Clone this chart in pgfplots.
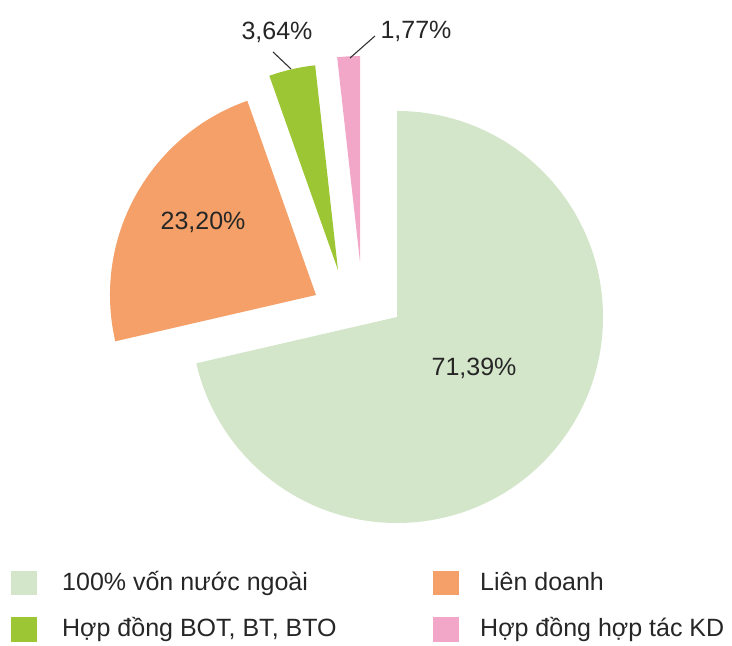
\documentclass[border=0pt]{standalone}
\usepackage{pgfplots}
\pgfplotsset{compat=1.18}
\usepackage{pgfplotstable}
\usepackage{fontspec}
\setmainfont{Liberation Sans}
\definecolor{cA}{HTML}{D3E6CA}
\definecolor{cB}{HTML}{F4A068}
\definecolor{cC}{HTML}{9DC634}
\definecolor{cD}{HTML}{F2A7C9}

% value (%), explode offset dx dy (bp), label position lx ly, colour
\pgfplotstableread{
value dx dy lx ly col
71.39 0 0 474 278 cA
23.20 -81 22 203 424 cB
3.64 -59 47 277 614 cC
1.77 -37 55 416 615 cD
}\piedata

\begin{document}
\begin{tikzpicture}
\begin{axis}[
  scale only axis, width=732bp, height=646bp,
  xmin=0, xmax=732, ymin=0, ymax=646,
  hide axis, clip=false,
]
\def\cum{0}
\pgfplotsforeachungrouped \i in {0,1,2,3}{%
  \pgfplotstablegetelem{\i}{value}\of\piedata \let\v\pgfplotsretval
  \pgfplotstablegetelem{\i}{dx}\of\piedata \let\dx\pgfplotsretval
  \pgfplotstablegetelem{\i}{dy}\of\piedata \let\dy\pgfplotsretval
  \pgfplotstablegetelem{\i}{lx}\of\piedata \let\lx\pgfplotsretval
  \pgfplotstablegetelem{\i}{ly}\of\piedata \let\ly\pgfplotsretval
  \pgfplotstablegetelem{\i}{col}\of\piedata \let\colname\pgfplotsretval
  \pgfmathsetmacro{\sa}{90-3.6*\cum}%
  \pgfmathsetmacro{\cum}{\cum+\v}%
  \pgfmathsetmacro{\ea}{90-3.6*\cum}%
  \pgfmathsetmacro{\px}{397+\dx}%
  \pgfmathsetmacro{\py}{329+\dy}%
  \edef\temp{\noexpand\fill[\colname] (axis cs:\px,\py) -- ++(\sa:206bp)
     arc[start angle=\sa, end angle=\ea, radius=206bp] -- cycle;
     \noexpand\node[inner sep=0pt, text=black!85, font=\noexpand\fontsize{25bp}{30bp}\noexpand\selectfont]
     at (axis cs:\lx,\ly) {\noexpand\pgfmathprintnumber[use comma, fixed, fixed zerofill, precision=2, assume math mode=true]{\v}\noexpand\%};}%
  \temp
}
\draw[black!80, line width=1.1bp] (axis cs:273,594) -- (axis cs:291,577);
\draw[black!80, line width=1.1bp] (axis cs:350,588) -- (axis cs:375,610);

% legend
\fill[cA] (axis cs:11,51) rectangle (axis cs:37,75);
\fill[cB] (axis cs:433,51) rectangle (axis cs:459,75);
\fill[cC] (axis cs:11,4) rectangle (axis cs:37,29);
\fill[cD] (axis cs:433,4) rectangle (axis cs:459,29);
\begin{scope}[every node/.style={inner sep=0pt, anchor=base west, text=black!85, font=\fontsize{25bp}{30bp}\selectfont}]
\node at (axis cs:62,55) {100\% vốn nước ngoài};
\node at (axis cs:480,55) {Liên doanh};
\node at (axis cs:62,9) {Hợp đồng BOT, BT, BTO};
\node at (axis cs:480,9) {Hợp đồng hợp tác KD};
\end{scope}
\end{axis}
\pgfresetboundingbox
\path (0,0) rectangle (732bp,646bp);
\end{tikzpicture}
\end{document}
